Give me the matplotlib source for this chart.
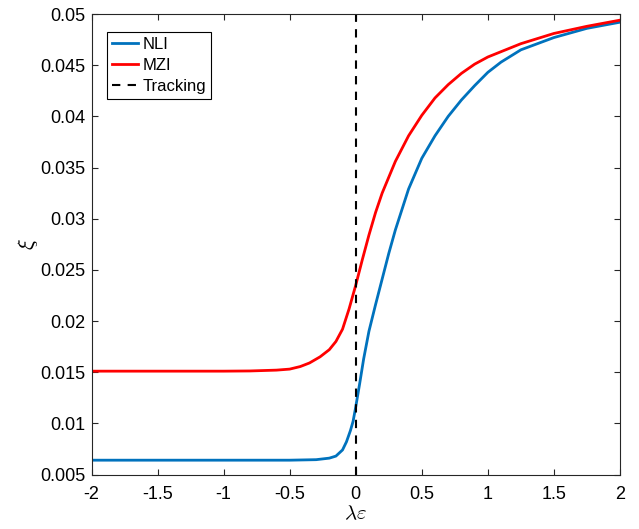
import numpy as np
import matplotlib
matplotlib.use('Agg')
import matplotlib.pyplot as plt

plt.rcParams['font.family'] = ['Liberation Sans', 'DejaVu Sans']
plt.rcParams['mathtext.fontset'] = 'cm'

x_mzi = [-2, -1.5, -1, -0.8, -0.6, -0.5, -0.42, -0.35, -0.27, -0.2, -0.15, -0.1, -0.05, 0,
         0.05, 0.1, 0.15, 0.2, 0.3, 0.4, 0.5, 0.6, 0.7, 0.8, 0.9, 1.0, 1.25, 1.5, 1.75, 2.0]
y_mzi = [0.0151, 0.0151, 0.0151, 0.01512, 0.0152, 0.0153, 0.01555, 0.0159, 0.0165, 0.0172,
         0.0180, 0.0192, 0.0212, 0.0235, 0.0260, 0.0284, 0.0306, 0.0325, 0.0356, 0.0381,
         0.0401, 0.0418, 0.0431, 0.0442, 0.0451, 0.0458, 0.0471, 0.0481, 0.0488, 0.0494]

x_nli = [-2, -1, -0.5, -0.3, -0.2, -0.15, -0.1, -0.07, -0.04, -0.02, 0, 0.03, 0.06, 0.1,
         0.15, 0.2, 0.25, 0.3, 0.4, 0.5, 0.6, 0.7, 0.8, 0.9, 1.0, 1.1, 1.25, 1.5, 1.75, 2.0]
y_nli = [0.0064, 0.0064, 0.0064, 0.00645, 0.0066, 0.0068, 0.0074, 0.0082, 0.0093, 0.0102,
         0.0116, 0.0139, 0.0163, 0.0190, 0.0216, 0.0241, 0.0266, 0.0289, 0.0329, 0.0359,
         0.0381, 0.0400, 0.0416, 0.0430, 0.0443, 0.0453, 0.0465, 0.0477, 0.0486, 0.0492]

track_x = 0.0

xticks = [-2, -1.5, -1, -0.5, 0, 0.5, 1, 1.5, 2]
xticklabels = ['-2', '-1.5', '-1', '-0.5', '0', '0.5', '1', '1.5', '2']
yticks = [0.005, 0.01, 0.015, 0.02, 0.025, 0.03, 0.035, 0.04, 0.045, 0.05]
yticklabels = ['0.005', '0.01', '0.015', '0.02', '0.025', '0.03', '0.035', '0.04', '0.045', '0.05']

fig = plt.figure(figsize=(6.39, 5.29), dpi=100)
ax = fig.add_axes([0.1432, 0.103, 0.827, 0.8705])

ax.plot(x_nli, y_nli, color='#0072BD', lw=2, label='NLI')
ax.plot(x_mzi, y_mzi, color='#FF0000', lw=2, label='MZI')
ax.axvline(track_x, color='k', ls='--', lw=1.5, dashes=(4, 3.5), label='Tracking')

ax.set_xlim(-2, 2)
ax.set_ylim(0.005, 0.05)
ax.set_xticks(xticks)
ax.set_xticklabels(xticklabels)
ax.set_yticks(yticks)
ax.set_yticklabels(yticklabels)
ax.tick_params(direction='in', length=4, width=0.8, labelsize=13, top=True, right=True,
               colors='#262626', labelcolor='black')
ax.tick_params(axis='x', pad=8)
ax.tick_params(axis='y', pad=4.5)
for s in ax.spines.values():
    s.set_color('#262626')
    s.set_linewidth(0.8)

ax.set_xlabel(r'$\lambda\varepsilon$', fontsize=15, labelpad=1)
ax.set_ylabel(r'$\xi$', fontsize=16, labelpad=0)

leg = ax.legend(loc='upper left', bbox_to_anchor=(0.029, 0.961), fontsize=12,
                fancybox=False, framealpha=1, edgecolor='k', borderpad=0.3,
                handlelength=1.6, handletextpad=0.25, labelspacing=0.35, borderaxespad=0)
leg.get_frame().set_linewidth(0.8)

fig.savefig('out.png', dpi=100)
